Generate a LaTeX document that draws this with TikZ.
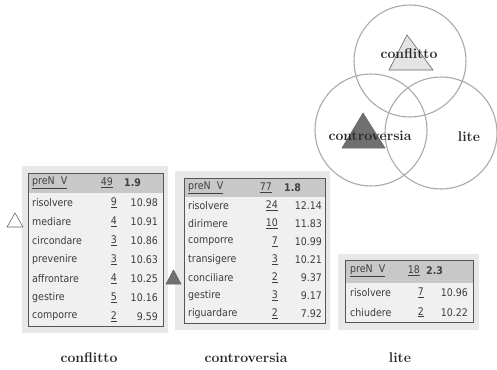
\documentclass[tikz,border=0pt]{standalone}
\usepackage{fontspec}
\newfontfamily\tabfont{DejaVu Sans}[FakeStretch=0.9]
\definecolor{outerbg}{HTML}{E8E8E8}
\definecolor{bodybg}{HTML}{F0F0F0}
\definecolor{headbg}{HTML}{C8C8C8}
\definecolor{tborder}{HTML}{555555}
\definecolor{ttext}{HTML}{3C3C3C}
\definecolor{circ}{HTML}{AAAAAA}
\definecolor{lighttri}{HTML}{E4E4E4}
\definecolor{darktri}{HTML}{707070}
\begin{document}
\begin{tikzpicture}[x=1pt,y=-1pt,
  cell/.style={inner sep=0pt, text=ttext, font=\tabfont\fontsize{10.5}{12}\selectfont},
  hcell/.style={cell, text=black!75},
  lbl/.style={inner sep=0pt, font=\fontsize{14}{16}\selectfont\bfseries, text=black!85},
  outerbox/.style={fill=outerbg, draw=none},
  innerbox/.style={fill=bodybg, draw=tborder, line width=1pt},
  headrow/.style={fill=headbg, draw=none},
  ring/.style={draw=circ, line width=1.1pt},
  tri/.style={draw=black!60, line width=0.6pt, line join=round}]
\useasboundingbox (0,0) rectangle (497,369);
\fill[white] (0,0) rectangle (497,369);

% ---------- Venn diagram ----------
\draw[tri, fill=lighttri] (407,35) -- (389,70) -- (433,70) -- cycle;
\draw[tri, fill=darktri] (363,113) -- (342,148) -- (385,148) -- cycle;
\draw[ring] (410,61) circle[radius=56pt];
\draw[ring] (371,130) circle[radius=56pt];
\draw[ring] (441,133) circle[radius=56pt];
\node[lbl] (vconf) at (409,54) {conflitto};
\node[lbl] (vcont) at (370,136) {controversia};
\node[lbl] (vlite) at (469,137) {lite};

% ---------- table 1 : conflitto ----------
\fill[outerbox] (22,166) rectangle (168,333);
\draw[innerbox] (28,173) rectangle (163,326);
\fill[headrow] (28.5,173.5) rectangle (162.5,193);
\draw[tborder, line width=1pt] (28,173) rectangle (163,326);
\node[hcell, anchor=west] (t1h1) at (32,183) {\underline{preN\ \ V}};
\node[hcell, anchor=east] (t1h2) at (113,183) {\underline{49}};
\node[hcell, anchor=west] (t1h3) at (124,183) {\textbf{1.9}};
\foreach \n/\c/\v [count=\i] in {risolvere/9/10.98, mediare/4/10.91, circondare/3/10.86,
    prevenire/3/10.63, affrontare/4/10.25, gestire/5/10.16, comporre/2/9.59}{
  \node[cell, anchor=west] (t1n\i) at (32,{193+19*(\i-0.5)}) {\n};
  \node[cell, anchor=east] (t1c\i) at (117,{193+19*(\i-0.5)}) {\underline{\c}};
  \node[cell, anchor=east] (t1v\i) at (158,{193+19*(\i-0.5)}) {\v};
}

% ---------- table 2 : controversia ----------
\fill[outerbox] (175,171) rectangle (330,330);
\draw[innerbox] (184,178) rectangle (325,323);
\fill[headrow] (184.5,178.5) rectangle (324.5,197);
\draw[tborder, line width=1pt] (184,178) rectangle (325,323);
\node[hcell, anchor=west] (t2h1) at (188,187.5) {\underline{preN\ \ V}};
\node[hcell, anchor=east] (t2h2) at (272,187.5) {\underline{77}};
\node[hcell, anchor=west] (t2h3) at (284,187.5) {\textbf{1.8}};
\foreach \n/\c/\v [count=\i] in {risolvere/24/12.14, dirimere/10/11.83, comporre/7/10.99,
    transigere/3/10.21, conciliare/2/9.37, gestire/3/9.17, riguardare/2/7.92}{
  \node[cell, anchor=west] (t2n\i) at (188,{197+18*(\i-0.5)}) {\n};
  \node[cell, anchor=east] (t2c\i) at (278,{197+18*(\i-0.5)}) {\underline{\c}};
  \node[cell, anchor=east] (t2v\i) at (322,{197+18*(\i-0.5)}) {\v};
}

% ---------- table 3 : lite ----------
\fill[outerbox] (338,254) rectangle (479,330);
\draw[innerbox] (345,260) rectangle (473,322);
\fill[headrow] (345.5,260.5) rectangle (472.5,283);
\draw[tborder, line width=1pt] (345,260) rectangle (473,322);
\node[hcell, anchor=west] (t3h1) at (350,271) {\underline{preN\ \ V}};
\node[hcell, anchor=east] (t3h2) at (420,271) {\underline{18}};
\node[hcell, anchor=west] (t3h3) at (426,271) {\textbf{2.3}};
\foreach \n/\c/\v [count=\i] in {risolvere/7/10.96, chiudere/2/10.22}{
  \node[cell, anchor=west] (t3n\i) at (350,{283+19.5*(\i-0.5)}) {\n};
  \node[cell, anchor=east] (t3c\i) at (424,{283+19.5*(\i-0.5)}) {\underline{\c}};
  \node[cell, anchor=east] (t3v\i) at (468,{283+19.5*(\i-0.5)}) {\v};
}

% ---------- side triangles (on top) ----------
\draw[tri, fill=white] (15,213) -- (7,227) -- (23,227) -- cycle;
\draw[tri, fill=darktri] (173.5,270) -- (166,284) -- (181,284) -- cycle;

% ---------- bottom labels ----------
\node[lbl] (bconf) at (89,358) {conflitto};
\node[lbl] (bcont) at (246,358) {controversia};
\node[lbl] (blite) at (400,358) {lite};
\end{tikzpicture}
\end{document}
